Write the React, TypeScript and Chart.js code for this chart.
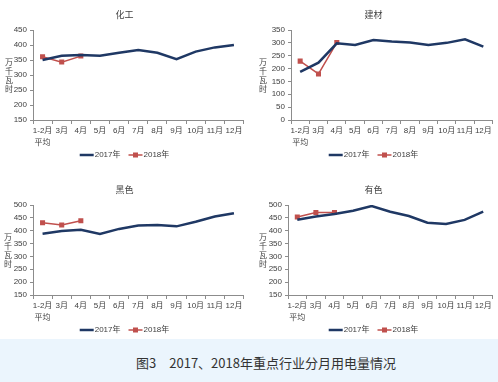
import React, { useEffect, useRef } from "react";
import { Chart, registerables } from "chart.js";

Chart.register(...registerables);

const categories: (string | string[])[] = [
  ["1-2月", "平均"], "3月", "4月", "5月", "6月", "7月", "8月", "9月", "10月", "11月", "12月",
];

const seriesNames = ["2017年", "2018年"];
const yAxisTitle = "万千瓦时";
const caption = "图3　2017、2018年重点行业分月用电量情况";

const chemTitle = "化工";
const chem2017 = [350, 364, 367, 364, 374, 383, 374, 353, 378, 392, 400];
const chem2018 = [361, 343, 363];
const chemTicks = [150, 450, 50];

const buildTitle = "建材";
const build2017 = [187, 223, 298, 292, 311, 305, 301, 292, 300, 314, 285];
const build2018 = [229, 179, 301];
const buildTicks = [0, 350, 50];

const ferrousTitle = "黑色";
const ferrous2017 = [388, 399, 404, 387, 407, 420, 422, 417, 435, 455, 468];
const ferrous2018 = [431, 422, 439];
const ferrousTicks = [150, 500, 50];

const nonferrousTitle = "有色";
const nonferrous2017 = [443, 455, 465, 478, 496, 474, 457, 431, 426, 442, 474];
const nonferrous2018 = [453, 471, 471];
const nonferrousTicks = [150, 500, 50];

const FONT = '"Liberation Sans", "Noto Sans CJK SC", sans-serif';
const C17 = "#1F3864";
const C18 = "#C0504D";
const AXIS = "#8C8C8C";
const TEXT = "#404040";

type Geom = { w: number; h: number; left: number; right: number; top: number; bottom: number; titleY: number; legendY: number; yTitleX: number };

function Panel({ x, y, geom, title, ticks, s17, s18 }: { x: number; y: number; geom: Geom; title: string; ticks: number[]; s17: number[]; s18: number[] }) {
  const ref = useRef<HTMLCanvasElement>(null);
  useEffect(() => {
    const g = geom;
    const deco = {
      id: "deco",
      afterDraw(chart: any) {
        const ctx = chart.ctx;
        const area = chart.chartArea;
        ctx.save();
        ctx.fillStyle = TEXT;
        ctx.textAlign = "center";
        ctx.textBaseline = "middle";
        ctx.font = `9px "Noto Sans CJK SC", sans-serif`;
        ctx.fillText(title, g.w / 2, g.titleY);
        // stacked y title
        ctx.font = `8px "Noto Sans CJK SC", sans-serif`;
        const chars = Array.from(yAxisTitle);
        const cy = (area.top + area.bottom) / 2;
        const sp = 9;
        chars.forEach((c, i) => {
          ctx.fillText(c, g.yTitleX, cy + (i - (chars.length - 1) / 2) * sp);
        });
        // legend
        ctx.font = `8px ${FONT}`;
        const sample = 14;
        const t1 = ctx.measureText(seriesNames[0]).width;
        const t2 = ctx.measureText(seriesNames[1]).width;
        const gap = 8;
        const total = sample + 1 + t1 + gap + sample + 1 + t2;
        let lx = g.w / 2 - total / 2;
        const ly = g.legendY;
        ctx.strokeStyle = C17;
        ctx.lineWidth = 2.5;
        ctx.beginPath();
        ctx.moveTo(lx, ly);
        ctx.lineTo(lx + sample, ly);
        ctx.stroke();
        lx += sample + 1;
        ctx.textAlign = "left";
        ctx.fillStyle = TEXT;
        ctx.fillText(seriesNames[0], lx, ly);
        lx += t1 + gap;
        ctx.strokeStyle = C18;
        ctx.lineWidth = 1.5;
        ctx.beginPath();
        ctx.moveTo(lx, ly);
        ctx.lineTo(lx + sample, ly);
        ctx.stroke();
        ctx.fillStyle = C18;
        ctx.fillRect(lx + sample / 2 - 2.5, ly - 2.5, 5, 5);
        lx += sample + 1;
        ctx.fillStyle = TEXT;
        ctx.fillText(seriesNames[1], lx, ly);
        ctx.restore();
      },
    };
    const chart = new Chart(ref.current!, {
      type: "line",
      data: {
        labels: categories as any,
        datasets: [
          { label: seriesNames[0], data: s17, borderColor: C17, backgroundColor: C17, borderWidth: 2.5, pointRadius: 0, tension: 0 },
          { label: seriesNames[1], data: s18, borderColor: C18, backgroundColor: C18, borderWidth: 1.5, pointRadius: 2.5, pointStyle: "rect", tension: 0 },
        ],
      },
      options: {
        animation: false,
        responsive: false,
        maintainAspectRatio: false,
        layout: { padding: { left: 0, top: g.top, right: g.w - g.right, bottom: 0 } },
        plugins: { legend: { display: false }, title: { display: false }, tooltip: { enabled: false } },
        scales: {
          x: {
            type: "category",
            offset: true,
            grid: { offset: true, drawOnChartArea: false, color: AXIS, tickLength: 4 },
            border: { color: AXIS, width: 1 },
            ticks: { color: TEXT, font: { family: FONT, size: 8, lineHeight: 1.45 }, maxRotation: 0, minRotation: 0, autoSkip: false, padding: 1 },
            afterFit: (s: any) => { s.height = g.h - g.bottom; },
          },
          y: {
            min: ticks[0],
            max: ticks[1],
            grid: { drawOnChartArea: false, color: AXIS, tickLength: 3 },
            border: { color: AXIS, width: 1 },
            ticks: { stepSize: ticks[2], color: TEXT, font: { family: FONT, size: 8 }, padding: 3 },
            afterFit: (s: any) => { s.width = g.left; },
          },
        },
      },
      plugins: [deco],
    });
    return () => chart.destroy();
  }, []);
  return (
    <canvas ref={ref} width={geom.w} height={geom.h} style={{ position: "absolute", left: x, top: y, width: geom.w, height: geom.h }} />
  );
}

const g1: Geom = { w: 249, h: 165, left: 33, right: 244, top: 30, bottom: 120, titleY: 15, legendY: 155, yTitleX: 9 };
const g2: Geom = { w: 249, h: 165, left: 42, right: 246, top: 30, bottom: 120, titleY: 15, legendY: 155, yTitleX: 14 };
const g3: Geom = { w: 249, h: 173, left: 33, right: 244, top: 40, bottom: 130, titleY: 25, legendY: 165, yTitleX: 8 };
const g4: Geom = { w: 249, h: 173, left: 39, right: 246, top: 40, bottom: 130, titleY: 25, legendY: 165, yTitleX: 14 };

export default function App() {
  useEffect(() => {
    document.body.style.margin = "0";
  }, []);
  return (
    <div style={{ position: "absolute", left: 0, top: 0, width: 498, height: 382, background: "#FFFFFF", overflow: "hidden" }}>
      <Panel x={0} y={0} geom={g1} title={chemTitle} ticks={chemTicks} s17={chem2017} s18={chem2018} />
      <Panel x={249} y={0} geom={g2} title={buildTitle} ticks={buildTicks} s17={build2017} s18={build2018} />
      <Panel x={0} y={165} geom={g3} title={ferrousTitle} ticks={ferrousTicks} s17={ferrous2017} s18={ferrous2018} />
      <Panel x={249} y={165} geom={g4} title={nonferrousTitle} ticks={nonferrousTicks} s17={nonferrous2017} s18={nonferrous2018} />
      <div style={{ position: "absolute", left: 0, top: 339, width: 498, height: 43, background: "#EBF5FD" }}>
        <div style={{ position: "absolute", left: 0, top: 23, width: 498, textAlign: "center", transform: "translateY(-50%)", font: `13px "Noto Sans CJK SC", sans-serif`, color: "#333333", whiteSpace: "pre", paddingLeft: 34, boxSizing: "border-box" }}>
          {caption}
        </div>
      </div>
    </div>
  );
}
